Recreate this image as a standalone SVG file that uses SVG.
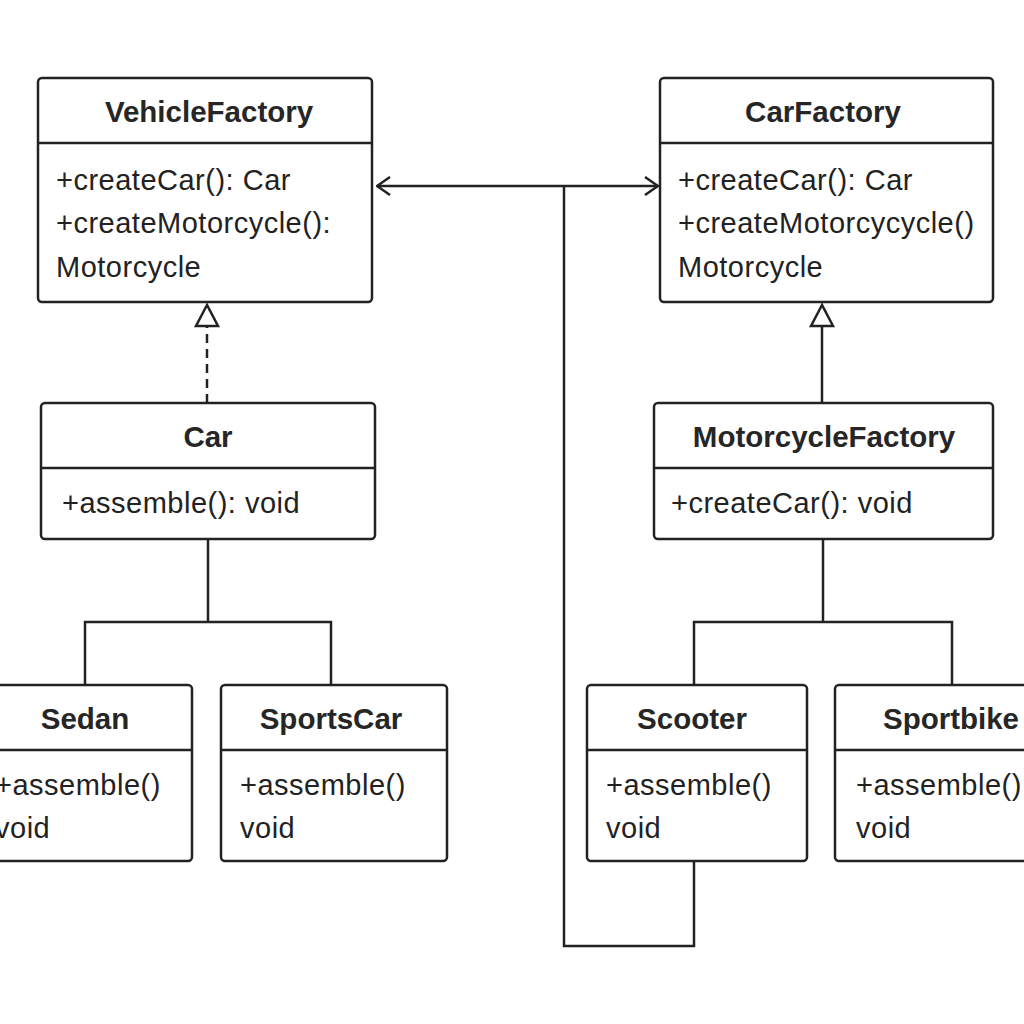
<svg xmlns="http://www.w3.org/2000/svg" width="1024" height="1024" viewBox="0 0 1024 1024">
<defs>
<style>
.box{fill:#fff;stroke:#222;stroke-width:2.5}
.div{stroke:#222;stroke-width:2.5}
.t{font-family:"Liberation Sans",Arial,sans-serif;font-size:29.5px;font-weight:bold;fill:#262626;text-anchor:middle}
.m{font-family:"Liberation Sans",Arial,sans-serif;font-size:29px;letter-spacing:0.5px;fill:#222}
.c{fill:none;stroke:#222;stroke-width:2.5}
.tri{fill:#fff;stroke:#222;stroke-width:2.5;stroke-linejoin:miter}
</style>
<marker id="open" viewBox="0 0 16 20" refX="15" refY="10" markerWidth="16" markerHeight="20" markerUnits="userSpaceOnUse" orient="auto-start-reverse">
<path d="M2,1 L15,10 L2,19" fill="none" stroke="#222" stroke-width="2.5"/>
</marker>
</defs>
<rect width="1024" height="1024" fill="#fff"/>
<g id="connectors">
<line class="c" x1="377" y1="186" x2="658" y2="186" marker-start="url(#open)" marker-end="url(#open)"/>
<polyline class="c" points="564,186 564,946 694,946 694,861"/>
<line class="c" x1="207" y1="403" x2="207" y2="326" stroke-dasharray="9,6"/>
<polygon class="tri" points="207,305 196,326 218,326"/>
<line class="c" x1="822" y1="403" x2="822" y2="326"/>
<polygon class="tri" points="822,305 811,326 833,326"/>
<polyline class="c" points="208,539 208,622"/>
<polyline class="c" points="85,685 85,622 331,622 331,685"/>
<polyline class="c" points="823,539 823,622"/>
<polyline class="c" points="694,685 694,622 952,622 952,685"/>
</g>
<g id="VehicleFactory">
<rect class="box" x="38" y="78" width="334" height="224" rx="4"/>
<line class="div" x1="38" y1="143" x2="372" y2="143"/>
<text class="t" x="209" y="122">VehicleFactory</text>
<text class="m" x="56" y="190">+createCar(): Car</text>
<text class="m" x="56" y="233">+createMotorcycle():</text>
<text class="m" x="56" y="277">Motorcycle</text>
</g>
<g id="CarFactory">
<rect class="box" x="660" y="78" width="333" height="224" rx="4"/>
<line class="div" x1="660" y1="143" x2="993" y2="143"/>
<text class="t" x="823" y="122">CarFactory</text>
<text class="m" x="678" y="190">+createCar(): Car</text>
<text class="m" x="678" y="233">+createMotorcycycle()</text>
<text class="m" x="678" y="277">Motorcycle</text>
</g>
<g id="Car">
<rect class="box" x="41" y="403" width="334" height="136" rx="4"/>
<line class="div" x1="41" y1="468" x2="375" y2="468"/>
<text class="t" x="208" y="447">Car</text>
<text class="m" x="62" y="513">+assemble(): void</text>
</g>
<g id="MotorcycleFactory">
<rect class="box" x="654" y="403" width="339" height="136" rx="4"/>
<line class="div" x1="654" y1="468" x2="993" y2="468"/>
<text class="t" x="824" y="447">MotorcycleFactory</text>
<text class="m" x="671" y="513">+createCar(): void</text>
</g>
<g id="Sedan">
<rect class="box" x="-22" y="685" width="214" height="176" rx="4"/>
<line class="div" x1="-22" y1="750" x2="192" y2="750"/>
<text class="t" x="85" y="729">Sedan</text>
<text class="m" x="-5" y="795">+assemble()</text>
<text class="m" x="-5" y="838">void</text>
</g>
<g id="SportsCar">
<rect class="box" x="221" y="685" width="226" height="176" rx="4"/>
<line class="div" x1="221" y1="750" x2="447" y2="750"/>
<text class="t" x="331" y="729">SportsCar</text>
<text class="m" x="240" y="795">+assemble()</text>
<text class="m" x="240" y="838">void</text>
</g>
<g id="Scooter">
<rect class="box" x="587" y="685" width="220" height="176" rx="4"/>
<line class="div" x1="587" y1="750" x2="807" y2="750"/>
<text class="t" x="692" y="729">Scooter</text>
<text class="m" x="606" y="795">+assemble()</text>
<text class="m" x="606" y="838">void</text>
</g>
<g id="Sportbike">
<rect class="box" x="835" y="685" width="210" height="176" rx="4"/>
<line class="div" x1="835" y1="750" x2="1045" y2="750"/>
<text class="t" x="951" y="729">Sportbike</text>
<text class="m" x="856" y="795">+assemble()</text>
<text class="m" x="856" y="838">void</text>
</g>
</svg>
